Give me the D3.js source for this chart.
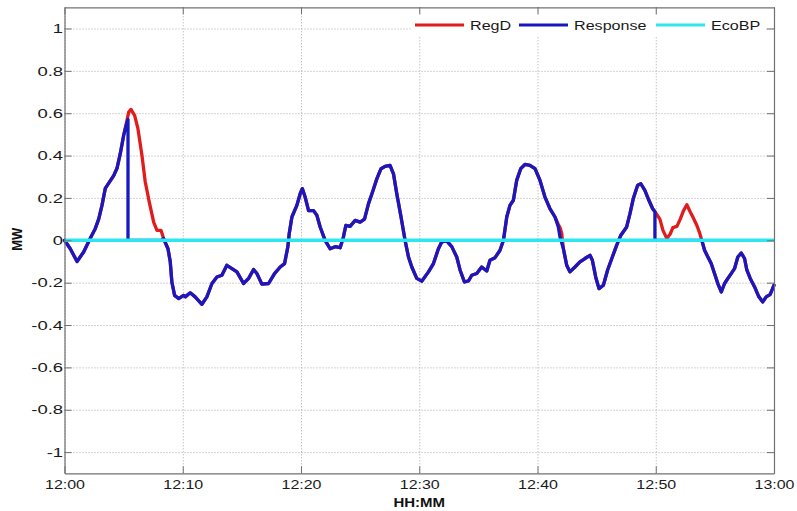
<!DOCTYPE html>
<html><head><meta charset="utf-8">
<script src="https://cdn.jsdelivr.net/npm/d3@7"></script>
<style>
html,body{margin:0;padding:0;background:#fff;}
svg{display:block;}
</style></head><body>
<svg id="chart" width="797" height="511"></svg>
<script>
// ---- data (minutes after 12:00, MW) ----
const minutes = [
  0,0.49,1.06,1.62,2.18,2.60,2.89,3.17,3.45,3.74,
  4.16,4.44,4.72,5.00,5.28,5.37,5.37,5.43,5.62,5.93,
  6.21,6.55,6.83,7.17,7.54,7.82,8.16,8.38,8.75,8.94,
  9.08,9.31,9.65,10.07,10.21,10.63,11.05,11.62,12.04,12.47,
  12.89,13.31,13.73,14.16,14.58,15.14,15.57,15.99,16.27,16.69,
  17.26,17.76,18.24,18.61,18.89,19.00,19.23,19.65,19.93,20.11,
  20.35,20.64,21.06,21.34,21.62,22.04,22.46,22.89,23.31,23.59,
  23.79,24.15,24.58,25.00,25.37,25.71,26.05,26.41,26.77,27.11,
  27.53,27.82,28.10,28.46,28.80,29.09,29.37,29.79,30.21,30.78,
  31.20,31.62,31.90,32.32,32.75,33.17,33.45,33.82,34.16,34.44,
  34.86,35.28,35.71,35.98,36.41,36.83,37.12,37.40,37.67,37.96,
  38.24,38.58,38.94,39.36,39.79,40.21,40.63,41.05,41.48,41.76,
  41.90,42.04,42.19,42.47,42.74,43.17,43.59,44.01,44.44,44.64,
  44.92,45.20,45.57,45.93,46.33,46.69,47.05,47.54,47.82,48.10,
  48.47,48.74,49.08,49.42,49.73,49.93,49.93,50.07,50.35,50.61,
  50.94,51.23,51.45,51.79,52.07,52.35,52.63,52.92,53.14,53.48,
  53.71,53.88,54.13,54.41,54.69,54.97,55.25,55.54,55.82,56.10,
  56.38,56.66,56.94,57.23,57.51,57.70,57.99,58.36,58.72,59.05,
  59.34,59.68,60.0
];
const regD = [
  0,-0.04,-0.10,-0.055,0.01,0.055,0.10,0.165,0.245,0.27,
  0.305,0.34,0.41,0.495,0.565,0.59,0.59,0.605,0.618,0.59,
  0.527,0.40,0.275,0.18,0.086,0.047,0.047,0.008,-0.04,-0.10,
  -0.197,-0.26,-0.275,-0.26,-0.267,-0.248,-0.267,-0.302,-0.267,-0.204,
  -0.173,-0.165,-0.118,-0.134,-0.149,-0.204,-0.18,-0.138,-0.157,-0.207,
  -0.204,-0.157,-0.126,-0.11,-0.03,0.03,0.11,0.165,0.22,0.244,
  0.204,0.14,0.14,0.118,0.063,0,-0.04,-0.03,-0.035,0.016,
  0.07,0.066,0.094,0.086,0.10,0.173,0.228,0.29,0.338,0.349,
  0.354,0.314,0.22,0.11,0,-0.079,-0.126,-0.18,-0.193,-0.149,
  -0.11,-0.04,-0.008,-0.003,-0.03,-0.079,-0.14,-0.197,-0.192,-0.165,
  -0.157,-0.126,-0.145,-0.094,-0.082,-0.047,0,0.11,0.165,0.189,
  0.283,0.338,0.358,0.354,0.338,0.283,0.204,0.15,0.11,0.075,
  0.06,0.035,-0.04,-0.118,-0.149,-0.126,-0.102,-0.086,-0.071,-0.094,
  -0.173,-0.228,-0.212,-0.14,-0.079,-0.024,0.024,0.063,0.126,0.197,
  0.26,0.267,0.236,0.189,0.15,0.135,0.135,0.123,0.10,0.047,
  0.008,0.031,0.06,0.066,0.10,0.14,0.168,0.134,0.11,0.07,
  0.035,0.003,-0.047,-0.079,-0.11,-0.157,-0.204,-0.244,-0.204,-0.18,
  -0.157,-0.134,-0.079,-0.06,-0.086,-0.14,-0.18,-0.22,-0.267,-0.291,
  -0.267,-0.255,-0.212
];
const response = [
  0,-0.04,-0.10,-0.055,0.01,0.055,0.10,0.165,0.245,0.27,
  0.305,0.34,0.41,0.495,0.555,0.57,0,0,0,0,
  0,0,0,0,0,0,0,0.008,-0.04,-0.10,
  -0.197,-0.26,-0.275,-0.26,-0.267,-0.248,-0.267,-0.302,-0.267,-0.204,
  -0.173,-0.165,-0.118,-0.134,-0.149,-0.204,-0.18,-0.138,-0.157,-0.207,
  -0.204,-0.157,-0.126,-0.11,-0.03,0.03,0.11,0.165,0.22,0.244,
  0.204,0.14,0.14,0.118,0.063,0,-0.04,-0.03,-0.035,0.016,
  0.07,0.066,0.094,0.086,0.10,0.173,0.228,0.29,0.338,0.349,
  0.354,0.314,0.22,0.11,0,-0.079,-0.126,-0.18,-0.193,-0.149,
  -0.11,-0.04,-0.008,-0.003,-0.03,-0.079,-0.14,-0.197,-0.192,-0.165,
  -0.157,-0.126,-0.145,-0.094,-0.082,-0.047,0,0.11,0.165,0.189,
  0.283,0.338,0.358,0.354,0.338,0.283,0.204,0.15,0.11,0.063,
  0.016,-0.01,-0.04,-0.118,-0.149,-0.126,-0.102,-0.086,-0.071,-0.094,
  -0.173,-0.228,-0.212,-0.14,-0.079,-0.024,0.024,0.063,0.126,0.197,
  0.26,0.267,0.236,0.189,0.15,0.135,0,0,0,0,
  0,0,0,0,0,0,0,0,0,0,
  0,0.003,-0.047,-0.079,-0.11,-0.157,-0.204,-0.244,-0.204,-0.18,
  -0.157,-0.134,-0.079,-0.06,-0.086,-0.14,-0.18,-0.22,-0.267,-0.291,
  -0.267,-0.255,-0.212
];
const ecoMinutes = [0, 60];
const ecoBP = [0, 0];
const seriesNames = ["RegD", "Response", "EcoBP"];
const seriesColors = ["#e01c1c", "#1818c0", "#2ee6f0"];
const xTicks = [0, 10, 20, 30, 40, 50, 60];
const xTickLabels = ["12:00","12:10","12:20","12:30","12:40","12:50","13:00"];
const yTicks = [-1,-0.8,-0.6,-0.4,-0.2,0,0.2,0.4,0.6,0.8,1];
const yTickLabels = ["-1","-0.8","-0.6","-0.4","-0.2","0","0.2","0.4","0.6","0.8","1"];
const xTitle = "HH:MM";
const yTitle = "MW";

// ---- layout ----
const L = 64.5, R = 774, T = 7.3, B = 473.3;
const font = "'Liberation Sans', Arial, Helvetica, sans-serif";
const axisColor = "#707070";
const x = d3.scaleLinear().domain([0, 60]).range([L, R]);
const y = d3.scaleLinear().domain([-1.1, 1.1]).range([B, T]);
const svg = d3.select("#chart");
svg.append("rect").attr("width", 797).attr("height", 511).attr("fill", "#fff");

// grid
svg.append("g").attr("transform", `translate(0,${B})`)
  .call(d3.axisBottom(x).tickValues(xTicks).tickSize(-(B - T)).tickFormat(""))
  .call(g => g.select(".domain").remove())
  .call(g => g.selectAll("line").attr("stroke", "#a8a8a8").attr("stroke-width", 1).attr("stroke-dasharray", "1,2"));
svg.append("g").attr("transform", `translate(${L},0)`)
  .call(d3.axisLeft(y).tickValues(yTicks).tickSize(-(R - L)).tickFormat(""))
  .call(g => g.select(".domain").remove())
  .call(g => g.selectAll("line").attr("stroke", "#a8a8a8").attr("stroke-width", 1).attr("stroke-dasharray", "1,2"));

// series
const idx = d3.range(minutes.length);
const lineRegD = d3.line().x(i => x(minutes[i])).y(i => y(regD[i]));
const lineResp = d3.line().x(i => x(minutes[i])).y(i => y(response[i]));
const lineEco = d3.line().x(i => x(ecoMinutes[i])).y(i => y(ecoBP[i]));
const plot = svg.append("g");
plot.append("path").attr("d", lineRegD(idx)).attr("fill", "none")
  .attr("stroke", seriesColors[0]).attr("stroke-width", 3.3).attr("stroke-linejoin", "round").attr("stroke-linecap", "round");
plot.append("path").attr("d", lineResp(idx)).attr("fill", "none")
  .attr("stroke", seriesColors[1]).attr("stroke-width", 3.3).attr("stroke-linejoin", "round").attr("stroke-linecap", "round");
plot.append("path").attr("d", lineEco(d3.range(ecoBP.length))).attr("fill", "none")
  .attr("stroke", seriesColors[2]).attr("stroke-width", 3.5);

// axes (box with inward ticks)
function styleAxis(g) {
  g.select(".domain").attr("stroke", axisColor).attr("stroke-width", 1.2);
  g.selectAll(".tick line").attr("stroke", axisColor).attr("stroke-width", 1);
}
const xAxis = svg.append("g").attr("transform", `translate(0,${B})`)
  .call(d3.axisBottom(x).tickValues(xTicks).tickFormat((d, i) => xTickLabels[i])
    .tickSizeInner(-7).tickSizeOuter(0).tickPadding(6.5))
  .call(styleAxis);
xAxis.selectAll("text").attr("font-family", font).attr("font-size", 13).attr("fill", "#1a1a1a")
  .attr("transform", "scale(1.23,1)");

const yAxis = svg.append("g").attr("transform", `translate(${L},0)`)
  .call(d3.axisLeft(y).tickValues(yTicks).tickFormat((d, i) => yTickLabels[i])
    .tickSizeInner(-7).tickSizeOuter(0).tickPadding(1))
  .call(styleAxis);
yAxis.selectAll("text").attr("font-family", font).attr("font-size", 13).attr("fill", "#1a1a1a")
  .attr("transform", "scale(1.42,1)");

svg.append("g").attr("transform", `translate(0,${T})`)
  .call(d3.axisTop(x).tickValues(xTicks).tickFormat("").tickSizeInner(-7).tickSizeOuter(0))
  .call(styleAxis);
svg.append("g").attr("transform", `translate(${R},0)`)
  .call(d3.axisRight(y).tickValues(yTicks).tickFormat("").tickSizeInner(-7).tickSizeOuter(0))
  .call(styleAxis);

// axis titles
svg.append("text").attr("transform", `translate(${(L + R) / 2},507) scale(1.2,1)`)
  .attr("text-anchor", "middle").attr("font-family", font).attr("font-weight", "bold")
  .attr("font-size", 12.5).attr("fill", "#111").text(xTitle);
svg.append("text").attr("transform", `translate(21.5,${y(0) - 1}) scale(1.15,1) rotate(-90)`)
  .attr("text-anchor", "middle").attr("font-family", font).attr("font-weight", "bold")
  .attr("font-size", 13).attr("fill", "#111").text(yTitle);

// legend
const legend = svg.append("g");
legend.append("rect").attr("x", 412).attr("y", 15).attr("width", 354).attr("height", 21).attr("fill", "#fff");
const legendItems = [
  { name: seriesNames[0], color: seriesColors[0], x0: 415 },
  { name: seriesNames[1], color: seriesColors[1], x0: 519 },
  { name: seriesNames[2], color: seriesColors[2], x0: 656 }
];
legendItems.forEach(it => {
  legend.append("line").attr("x1", it.x0).attr("x2", it.x0 + 49).attr("y1", 25).attr("y2", 25)
    .attr("stroke", it.color).attr("stroke-width", 3);
  legend.append("text").attr("transform", `translate(${it.x0 + 55},29.8) scale(1.24,1)`)
    .attr("font-family", font).attr("font-size", 13).attr("fill", "#1a1a1a").text(it.name);
});
</script>
</body></html>
